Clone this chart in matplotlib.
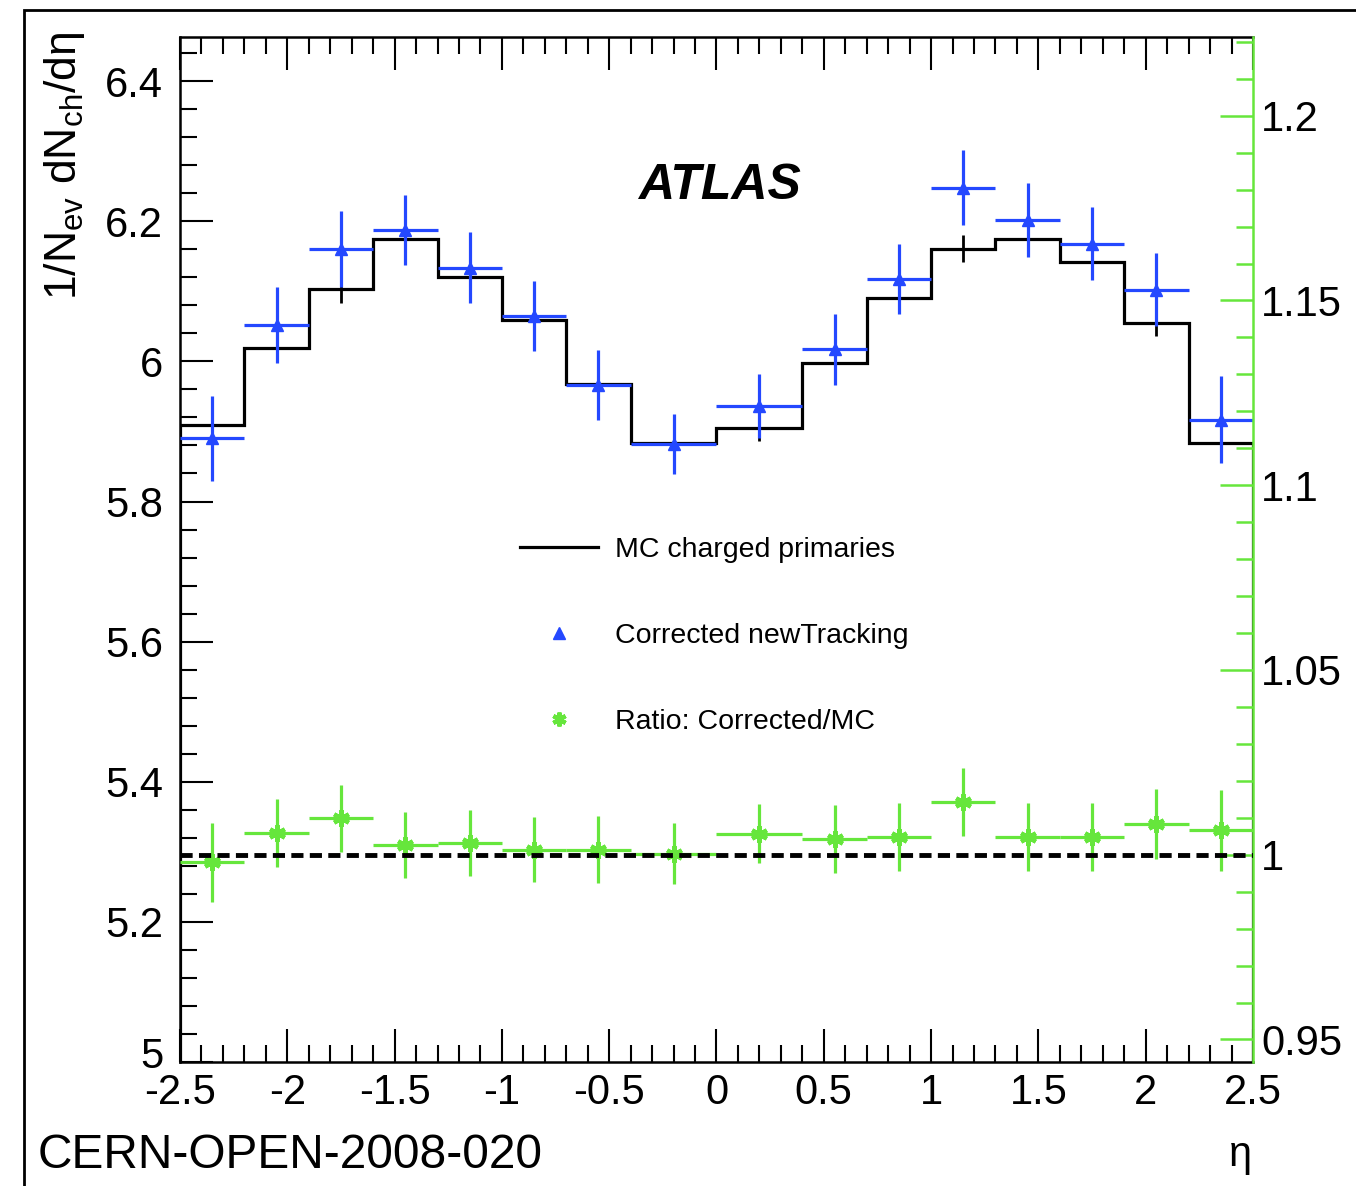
import matplotlib
matplotlib.use('Agg')
import matplotlib.pyplot as plt
import numpy as np
from matplotlib.lines import Line2D
from matplotlib.patches import Rectangle
from matplotlib.transforms import ScaledTranslation
from matplotlib import font_manager

# bin edges in eta
eta_edges = [-2.5, -2.2, -1.9, -1.6, -1.3, -1.0, -0.7, -0.4, 0.0,
             0.4, 0.7, 1.0, 1.3, 1.6, 1.9, 2.2, 2.5]

# MC charged primaries (histogram)
mc_vals = [5.909, 6.019, 6.103, 6.174, 6.121, 6.059, 5.968, 5.884,
           5.905, 5.997, 6.090, 6.161, 6.174, 6.142, 6.055, 5.883]
mc_err = [0.019] * 16

# Corrected newTracking
corr_vals = [5.890, 6.052, 6.160, 6.188, 6.134, 6.065, 5.966, 5.882,
             5.936, 6.017, 6.117, 6.248, 6.202, 6.168, 6.102, 5.917]
corr_err = [0.061, 0.054, 0.054, 0.050, 0.050, 0.050, 0.050, 0.043,
            0.046, 0.050, 0.050, 0.054, 0.053, 0.052, 0.052, 0.062]

# Ratio corrected / MC (right axis)
ratio_vals = [0.9979, 1.0059, 1.0098, 1.0026, 1.0032, 1.0014, 1.0014, 1.0003,
              1.0057, 1.0043, 1.0048, 1.0142, 1.0048, 1.0048, 1.0084, 1.0066]
ratio_err = [0.0107, 0.0091, 0.0090, 0.0090, 0.0090, 0.0088, 0.0090, 0.0083,
             0.0079, 0.0092, 0.0092, 0.0092, 0.0092, 0.0092, 0.0095, 0.0110]

xticks = [-2.5, -2, -1.5, -1, -0.5, 0, 0.5, 1, 1.5, 2, 2.5]
xticklabels = ['-2.5', '-2', '-1.5', '-1', '-0.5', '0', '0.5', '1', '1.5', '2', '2.5']
yticks = [5.0, 5.2, 5.4, 5.6, 5.8, 6.0, 6.2, 6.4]
yticklabels = ['5', '5.2', '5.4', '5.6', '5.8', '6', '6.2', '6.4']
rticks = [0.95, 1.0, 1.05, 1.1, 1.15, 1.2]
rticklabels = ['0.95', '1', '1.05', '1.1', '1.15', '1.2']

plt.rcParams['font.family'] = ['Liberation Sans', 'DejaVu Sans']
plt.rcParams['mathtext.fontset'] = 'custom'
plt.rcParams['mathtext.rm'] = 'Liberation Sans'
plt.rcParams['mathtext.it'] = 'Liberation Sans:italic'
plt.rcParams['mathtext.default'] = 'regular'

names = {f.name for f in font_manager.fontManager.ttflist}
narrow = 'Liberation Sans Narrow' if 'Liberation Sans Narrow' in names else 'Liberation Sans'

BLUE = '#2448ff'
GREEN = '#66e63c'
STAR = (6, 2, 0)

edges = np.array(eta_edges)
centers = (edges[:-1] + edges[1:]) / 2
half = (edges[1:] - edges[:-1]) / 2

fig = plt.figure(figsize=(13.56, 11.86), dpi=100)
ax = fig.add_axes([180 / 1356, 1 - 1062 / 1186, 1073 / 1356, 1025 / 1186])

# MC histogram with its small stat errors
ax.stairs(mc_vals, edges, color='black', lw=2.3, zorder=2)
ax.errorbar(centers, mc_vals, yerr=mc_err, fmt='none', ecolor='black',
            elinewidth=2.0, capsize=0, zorder=2)

# corrected data points
ax.errorbar(centers, corr_vals, xerr=half, yerr=corr_err, fmt='^',
            color=BLUE, ms=9, elinewidth=2.3, capsize=0, zorder=3)

ax.set_xlim(-2.5, 2.5)
ax.set_ylim(5.0, 6.463)
ax.set_xticks(xticks)
ax.set_xticklabels(xticklabels)
ax.set_xticks(np.arange(-2.5, 2.51, 0.1), minor=True)
ax.set_yticks(yticks)
ax.set_yticklabels(yticklabels)
ax.set_yticks(np.arange(5.0, 6.47, 0.04), minor=True)
ax.tick_params(which='both', direction='in', top=True, bottom=True,
               left=True, right=False, width=1.5, labelsize=30)
ax.tick_params(which='major', length=24)
ax.tick_params(which='minor', length=12)
ax.tick_params(axis='y', pad=12)
ax.tick_params(axis='x', pad=8)
for s in ['left', 'top', 'bottom']:
    ax.spines[s].set_linewidth(1.8)
ax.spines['right'].set_visible(False)

# the "5" sits on the corner, nudge it up a little off the "-2.5"
lab5 = ax.yaxis.get_major_ticks()[0].label1
lab5.set_transform(lab5.get_transform() + ScaledTranslation(0, 9 / 100, fig.dpi_scale_trans))

ax.set_ylabel('1/N$_{ev}$ dN$_{ch}$/dη', fontsize=32, loc='top')
ax.yaxis.set_label_coords(-0.087, 1.005)

# ratio on right axis
rax = ax.twinx()
rax.set_ylim(0.9439, 1.2213)
rax.errorbar(centers, ratio_vals, xerr=half, yerr=ratio_err, fmt='none',
             ecolor=GREEN, elinewidth=2.3, capsize=0)
rax.plot(centers, ratio_vals, ls='none', marker=STAR, color=GREEN, ms=12, mew=3)
rax.axhline(1.0, color='black', ls=(0, (2.5, 1.3)), lw=3.5, zorder=5)
rax.set_yticks(rticks)
rax.set_yticklabels(rticklabels)
rax.set_yticks(np.arange(0.95, 1.221, 0.01), minor=True)
rax.tick_params(which='both', direction='in', color=GREEN, width=1.8,
                labelsize=30, pad=6)
rax.tick_params(which='major', length=24)
rax.tick_params(which='minor', length=12)
for s in ['left', 'top', 'bottom']:
    rax.spines[s].set_visible(False)
rax.spines['right'].set_color(GREEN)
rax.spines['right'].set_linewidth(1.8)

ax.text(0.503, 0.855, 'ATLAS', transform=ax.transAxes, fontsize=36,
        fontweight='bold', style='italic', ha='center', va='center')

handles = [Line2D([], [], color='black', lw=2.3),
           Line2D([], [], ls='none', marker='^', color=BLUE, ms=8),
           Line2D([], [], ls='none', marker=STAR, color=GREEN, ms=10, mew=3)]
labels = ['MC charged primaries', 'Corrected newTracking', 'Ratio: Corrected/MC']
fig.legend(handles, labels, loc='upper left',
           bbox_to_anchor=(520 / 1356, 1 - 537 / 1186), frameon=False,
           fontsize=20.5, labelspacing=2.1, handlelength=2.75,
           handletextpad=0.6, borderpad=0, borderaxespad=0)

fig.text(38 / 1356, 1 - 1155 / 1186, 'CERN-OPEN-2008-020', family=narrow,
         fontsize=40 if narrow != 'Liberation Sans' else 34.5, va='center', ha='left')
fig.text(1240 / 1356, 1 - 1155 / 1186, 'η', fontsize=30, va='center', ha='center')

# outer frame
fig.patches.append(Rectangle((24 / 1356, -0.05), 1.1, 1 - 10 / 1186 + 0.05,
                             transform=fig.transFigure, fill=False,
                             edgecolor='black', lw=2.0))

fig.savefig('out.png', dpi=100)
